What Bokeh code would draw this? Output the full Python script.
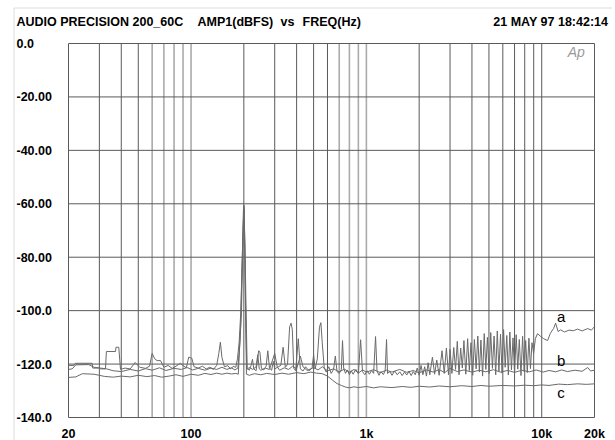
from bokeh.plotting import figure
from bokeh.models import Range1d, Label, PolyAnnotation
from bokeh.core.properties import value
from bokeh.embed import file_html
from bokeh.resources import INLINE

# ---------------- data ----------------
grid_freqs = [20, 30, 40, 50, 200, 300, 400, 500, 600,
              2000, 3000, 4000, 5000, 6000, 7000, 8000, 9000, 10000, 20000]
grid_freqs_light = [60, 70, 80, 90, 100, 700, 800, 900, 1000]
y_ticks = [0, -20, -40, -60, -80, -100, -120, -140]
y_tick_labels = ["0.0", "-20.00", "-40.00", "-60.00", "-80.00", "-100.0", "-120.0", "-140.0"]
x_label_freqs = [20, 100, 1000, 10000, 20000]
x_tick_labels = ["20", "100", "1k", "10k", "20k"]

trace_a = [
    (20, -120.5), (21.5, -120.5), (21.9, -119.7), (27.3, -119.7), (27.5, -121.5), (29.8, -121.5),
    (30.5, -121.8), (32.5, -121.8), (32.9, -115.3), (37.1, -115.3), (37.3, -113.7), (38.7, -113.7),
    (39.6, -122.0), (42, -121.5), (45, -121.8), (48, -119.4), (51, -121.2), (55, -121.6), (58, -120.8),
    (60, -116.0), (62, -118.0), (64, -118.7), (67, -118.7), (70, -121.2), (74, -120.5), (78, -121.6),
    (82, -120.8), (87, -119.7), (90, -120.6), (94, -121.4), (97, -117.4), (101, -117.8), (104, -121.0),
    (110, -121.5), (116, -120.8), (122, -121.8), (128, -121.2), (134, -122.0), (140, -120.5),
    (144, -116.0), (147, -111.8), (150, -117.5), (155, -121.0), (162, -120.6), (168, -121.8),
    (174, -120.9), (180, -121.2), (184, -118.0), (188, -112.0), (192, -101.0), (196, -80.0),
    (200, -60.5), (203, -75.0), (206, -100.0), (209, -121.5), (215, -122.3), (220, -120.5),
    (224, -118.2), (228, -121.8), (235, -122.5), (243, -115.0), (247, -115.5), (252, -121.6),
    (260, -122.2), (268, -120.8), (274, -115.0), (280, -121.5), (288, -122.3), (295, -119.0),
    (300, -121.8), (315, -121.0), (325, -120.5), (335, -113.7), (345, -121.2), (355, -120.2),
    (365, -106.0), (372, -104.7), (378, -107.0), (385, -121.5), (395, -122.5), (409, -110.5),
    (420, -121.8), (435, -122.6), (450, -121.0), (470, -122.5), (490, -121.5), (500, -116.5),
    (510, -121.8), (525, -118.0), (540, -106.2), (550, -104.5), (560, -112.0), (575, -121.5),
    (590, -123.0), (610, -121.0), (630, -123.5), (650, -122.0), (665, -117.0), (680, -122.8),
    (700, -123.5), (720, -122.0), (731, -111.2), (742, -121.5), (760, -123.5), (780, -122.2),
    (800, -124.0), (820, -122.5), (840, -123.8), (870, -122.0), (900, -123.5), (927, -110.9),
    (950, -122.8), (980, -124.0), (1010, -122.5), (1040, -123.8), (1070, -122.4), (1100, -123.5),
    (1128, -109.7), (1150, -122.6), (1180, -124.2), (1210, -122.8), (1250, -123.9), (1280, -122.5),
    (1303, -110.8), (1320, -123.5), (1360, -122.8), (1400, -124.2), (1450, -122.6), (1500, -124.0),
    (1550, -122.9), (1600, -124.3), (1650, -123.0), (1700, -124.1), (1750, -122.7), (1800, -124.3),
    (1850, -122.8), (1900, -124.0), (1950, -121.5), (2000, -124.2), (2050, -120.5), (2100, -124.0),
    (2150, -121.0), (2200, -124.5), (2250, -119.5), (2300, -124.0), (2380, -117.4), (2450, -123.8),
    (2520, -118.5), (2600, -124.2), (2700, -115.0), (2780, -123.5), (2860, -114.0), (2940, -124.0),
    (3000, -114.5), (3075, -123.5), (3150, -113.8), (3225, -122.0), (3300, -111.5), (3375, -124.0),
    (3450, -114.0), (3525, -121.5), (3600, -111.2), (3690, -123.8), (3780, -110.5), (3865, -122.4),
    (3950, -112.0), (4040, -124.2), (4130, -110.8), (4225, -121.8), (4320, -109.5), (4410, -123.0),
    (4500, -111.0), (4600, -124.5), (4700, -108.6), (4800, -122.0), (4900, -110.0), (5010, -123.6),
    (5120, -108.2), (5235, -121.6), (5350, -109.5), (5465, -124.0), (5580, -107.6), (5700, -122.6),
    (5820, -108.8), (5940, -123.4), (6060, -107.1), (6190, -121.2), (6320, -109.3), (6450, -124.1),
    (6580, -108.0), (6720, -122.2), (6860, -110.2), (7000, -123.7), (7150, -109.0), (7300, -121.9),
    (7450, -110.8), (7615, -124.3), (7780, -109.6), (7940, -122.8), (8100, -111.2), (8275, -123.2),
    (8450, -110.3), (8625, -121.7), (8800, -112.0), (8990, -116.0), (9200, -110.5), (9460, -108.6),
    (9800, -109.5), (10250, -110.5), (10800, -111.2), (11200, -108.5), (11680, -106.7),
    (12000, -104.7), (12400, -107.8), (12820, -107.2), (13500, -108.0), (14300, -107.3),
    (15200, -107.5), (16000, -106.9), (17000, -107.6), (18280, -106.7), (19200, -107.3),
    (20000, -106.0),
]

trace_b = [
    (20, -122.0), (21, -121.8), (22, -120.3), (26, -120.2), (28, -121.2), (33, -121.8), (36, -122.5),
    (40, -122.8), (45, -122.0), (50, -122.6), (55, -121.7), (60, -122.3), (66, -121.4), (72, -122.4),
    (80, -121.6), (88, -122.0), (95, -121.3), (102, -122.2), (110, -121.6), (120, -122.3),
    (130, -121.5), (140, -122.0), (150, -121.2), (160, -122.0), (170, -121.4), (178, -122.2),
    (185, -121.5), (190, -112.0), (194, -100.0), (197, -78.0), (200, -61.0), (202, -74.0),
    (205, -104.0), (208, -122.0), (215, -121.3), (225, -122.0), (235, -121.0), (240, -116.5),
    (245, -121.8), (250, -122.3), (265, -121.5), (280, -122.0), (300, -116.0), (310, -121.0),
    (320, -122.3), (340, -121.4), (360, -122.0), (380, -120.8), (400, -121.8), (420, -117.0),
    (435, -121.0), (460, -122.4), (500, -121.3), (530, -122.2), (560, -121.0), (600, -122.5),
    (650, -121.8), (700, -122.9), (750, -121.9), (800, -123.1), (850, -122.0), (900, -123.4),
    (950, -122.2), (1000, -123.0), (1100, -122.1), (1200, -123.2), (1300, -122.3), (1400, -123.0),
    (1550, -122.0), (1700, -123.1), (1850, -122.4), (2000, -123.3), (2200, -122.2), (2400, -123.0),
    (2600, -122.1), (2800, -123.2), (3000, -121.6), (3300, -122.8), (3600, -122.2), (4000, -123.0),
    (4400, -122.3), (4800, -122.9), (5300, -122.1), (5800, -123.0), (6400, -122.4), (7000, -123.1),
    (7700, -122.3), (8500, -122.9), (9300, -122.2), (10200, -123.0), (11000, -122.4),
    (12000, -122.9), (13000, -122.2), (14000, -122.8), (15500, -122.3), (17000, -122.7),
    (18300, -121.3), (19000, -122.6), (20000, -122.3),
]

trace_c = [
    (20, -125.0), (22, -124.8), (24, -123.6), (28, -123.8), (32, -124.6), (36, -124.9), (40, -124.5),
    (45, -124.8), (50, -124.2), (56, -124.7), (62, -124.3), (68, -124.9), (75, -124.5), (82, -124.0),
    (90, -124.6), (100, -123.8), (110, -124.2), (120, -123.5), (130, -123.9), (140, -123.4),
    (150, -123.8), (160, -123.4), (170, -123.7), (180, -123.5), (186, -123.8), (192, -105.0),
    (196, -80.0), (199, -62.0), (201, -62.0), (204, -90.0), (207, -123.8), (215, -124.2),
    (230, -123.6), (250, -124.0), (270, -123.5), (300, -123.9), (330, -123.4), (360, -123.8),
    (400, -123.2), (440, -123.6), (480, -123.0), (520, -123.4), (560, -123.6), (600, -124.5),
    (640, -126.0), (680, -127.3), (720, -128.0), (760, -128.6), (800, -128.9), (850, -128.5),
    (900, -128.8), (1000, -128.4), (1100, -128.9), (1200, -128.5), (1400, -128.8), (1600, -128.4),
    (1800, -128.7), (2000, -128.3), (2300, -128.6), (2600, -128.2), (3000, -128.5), (3500, -128.1),
    (4000, -128.4), (4500, -128.0), (5000, -128.3), (6000, -128.0), (7000, -128.2), (8000, -127.9),
    (9000, -128.1), (10000, -127.8), (11000, -128.0), (12500, -127.5), (14000, -127.7),
    (16000, -127.4), (18000, -127.6), (20000, -127.4),
]

curve_names = ["a", "b", "c"]
curve_label_freq = [12900, 12900, 12900]
curve_label_db = [-102.1, -118.6, -130.5]

title_left = "AUDIO PRECISION 200_60C"
title_parts = ["AMP1(dBFS)", "vs", "FREQ(Hz)"]
title_stamp = "21 MAY 97 18:42:14"

# ---------------- layout (canvas pixels, canvas sits at the page's top-left) ----------------
W, H = 612, 440
PL, PR, PT, PB = 68, 594, 43, 417          # inner plot box inside the canvas
f_lo, f_hi = grid_freqs[0], grid_freqs[-1]
db_hi, db_lo = y_ticks[0], y_ticks[-1]
dec = f_hi / f_lo
span_px = PR - PL
x_start = f_lo / dec ** (PL / span_px)
x_end = f_hi * dec ** ((W - PR) / span_px)
db_per_px = (db_hi - db_lo) / (PB - PT)
y_end = db_hi + PT * db_per_px
y_start = db_lo - (H - PB) * db_per_px

FONT = "Liberation Sans"
GRID = "#5a5a5a"
GRID_LIGHT = "#ababab"
TRACE = "#6a6a6a"

p = figure(width=W, height=H, x_axis_type="log",
           x_range=Range1d(x_start, x_end), y_range=Range1d(y_start, y_end),
           x_axis_location=None, y_axis_location=None,
           toolbar_location=None, output_backend="svg",
           min_border_left=0, min_border_right=0, min_border_top=0, min_border_bottom=0)
p.min_border = 0
p.background_fill_color = "white"
p.border_fill_color = "white"
p.outline_line_color = None
p.grid.visible = False

# inner frame + grid lines from the tick lists
k = len(grid_freqs_light)
p.segment(x0=grid_freqs_light, y0=[db_lo] * k, x1=grid_freqs_light, y1=[db_hi] * k,
          line_color=GRID_LIGHT, line_width=1.6)
n = len(grid_freqs)
p.segment(x0=grid_freqs, y0=[db_lo] * n, x1=grid_freqs, y1=[db_hi] * n,
          line_color=GRID, line_width=1)
m = len(y_ticks)
p.segment(x0=[f_lo] * m, y0=y_ticks, x1=[f_hi] * m, y1=y_ticks,
          line_color=GRID, line_width=1)

for tr in (trace_c, trace_b, trace_a):
    fx = [f for f, _ in tr]
    fy = [d for _, d in tr]
    p.line(fx, fy, line_color=TRACE, line_width=1)

p.text(x=curve_label_freq, y=curve_label_db, text=curve_names,
       text_font=value(FONT), text_font_size="15px", text_color="black",
       text_align="center", text_baseline="middle")

# tick labels
for t, lab in zip(y_ticks, y_tick_labels):
    p.add_layout(Label(x=16, x_units="screen", y=t, y_units="data", text=lab,
                       text_font=FONT, text_font_size="12.5px", text_font_style="bold",
                       text_color="black", text_align="left", text_baseline="middle"))
for f, lab in zip(x_label_freqs, x_tick_labels):
    p.add_layout(Label(x=f, x_units="data", y=H - 433, y_units="screen", text=lab,
                       text_font=FONT, text_font_size="12.5px", text_font_style="bold",
                       text_color="black", text_align="center", text_baseline="middle"))

# header
ty = H - 21.5
p.add_layout(Label(x=16, x_units="screen", y=ty, y_units="screen", text=title_left,
                   text_font=FONT, text_font_size="12.5px", text_font_style="bold",
                   text_color="black", text_align="left", text_baseline="middle"))
for xs, part in zip([197, 280, 302], title_parts):
    p.add_layout(Label(x=xs, x_units="screen", y=ty, y_units="screen", text=part,
                       text_font=FONT, text_font_size="12.5px", text_font_style="bold",
                       text_color="black", text_align="left", text_baseline="middle"))
p.add_layout(Label(x=607.7, x_units="screen", y=ty, y_units="screen", text=title_stamp,
                   text_font=FONT, text_font_size="12.5px", text_font_style="bold",
                   text_color="black", text_align="right", text_baseline="middle"))

# Ap logo
p.add_layout(Label(x=17600, y=-3.3, text="Ap", text_font=FONT, text_font_size="14px",
                   text_font_style="italic", text_color="#9a9a9a",
                   text_align="right", text_baseline="middle"))

# outer page frame (left and top edges)
p.add_layout(PolyAnnotation(xs=[13.5, 13.5, W + 50, W + 50], ys=[-50, H - 7.5, H - 7.5, -50],
                            xs_units="screen", ys_units="screen",
                            fill_alpha=0, line_color="#8a8a8a", line_width=1))

open("out.html", "w").write(file_html(p, INLINE))
